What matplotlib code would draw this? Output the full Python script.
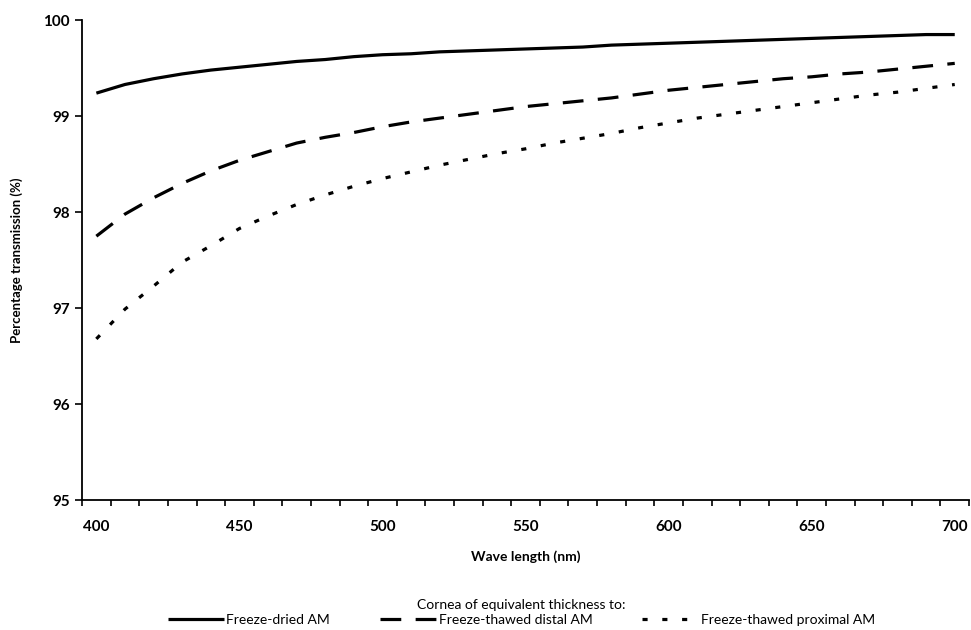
import numpy as np
import matplotlib
matplotlib.use("Agg")
import matplotlib.pyplot as plt
from matplotlib.ticker import MultipleLocator, FixedLocator

# Datos
wavelength = list(range(400, 701, 10))

freeze_dried = [99.24, 99.33, 99.39, 99.44, 99.48, 99.51, 99.54, 99.57, 99.59, 99.62,
                99.64, 99.65, 99.67, 99.68, 99.69, 99.70, 99.71, 99.72, 99.74, 99.75,
                99.76, 99.77, 99.78, 99.79, 99.80, 99.81, 99.82, 99.83, 99.84, 99.85,
                99.85]

thawed_distal = [97.75, 97.98, 98.15, 98.30, 98.43, 98.54, 98.63, 98.72, 98.78, 98.83,
                 98.89, 98.94, 98.98, 99.02, 99.06, 99.10, 99.13, 99.16, 99.19, 99.23,
                 99.27, 99.30, 99.33, 99.36, 99.39, 99.41, 99.44, 99.46, 99.49, 99.52,
                 99.55]

thawed_proximal = [96.68, 96.99, 97.23, 97.48, 97.65, 97.83, 97.96, 98.08, 98.18, 98.27,
                   98.35, 98.42, 98.49, 98.55, 98.61, 98.66, 98.72, 98.77, 98.82, 98.88,
                   98.93, 98.98, 99.02, 99.06, 99.10, 99.14, 99.18, 99.22, 99.25, 99.29,
                   99.33]

labels = ["Freeze-dried AM", "Freeze-thawed distal AM", "Freeze-thawed proximal AM"]

plt.rcParams["font.family"] = ["Lato", "DejaVu Sans"]

fig = plt.figure(figsize=(9.71, 6.30), dpi=100)
ax = fig.add_axes([0.0845, 0.206, 0.9135, 0.762])

lw = 2.3
ax.plot(wavelength, freeze_dried, color="black", lw=lw, solid_capstyle="butt", label=labels[0])
ax.plot(wavelength, thawed_distal, color="black", lw=lw, linestyle=(0, (6.5, 4.5)),
        dash_capstyle="butt", label=labels[1])
ax.plot(wavelength, thawed_proximal, color="black", lw=lw, linestyle=(0, (1.6, 4.6)),
        dash_capstyle="butt", label=labels[2])

# Ejes
ax.set_xlim(395, 705)
ax.set_ylim(95, 100)
ax.xaxis.set_major_locator(FixedLocator(list(range(400, 701, 50))))
ax.xaxis.set_minor_locator(FixedLocator(list(range(395, 706, 10))))
ax.yaxis.set_major_locator(MultipleLocator(1))
ax.tick_params(axis="x", which="major", length=0, pad=14, labelsize=11)
ax.tick_params(axis="x", which="minor", length=4, width=1.2, direction="out")
ax.tick_params(axis="y", which="major", length=5, width=1.2, pad=4, labelsize=11)
for lab in ax.get_xticklabels() + ax.get_yticklabels():
    lab.set_fontweight("bold")

for s in ["top", "right"]:
    ax.spines[s].set_visible(False)
for s in ["left", "bottom"]:
    ax.spines[s].set_linewidth(1.3)

ax.set_xlabel("Wave length (nm)", fontsize=10, fontweight="bold", labelpad=12)
ax.set_ylabel("Percentage transmission (%)", fontsize=9.5, fontweight="bold", labelpad=14)

# Leyenda
fig.legend(loc="lower center", bbox_to_anchor=(0.537, 0.004), ncol=3, frameon=False,
           title="Cornea of equivalent thickness to:", fontsize=10, title_fontsize=10,
           handlelength=4, handletextpad=0.2, columnspacing=3.6, borderaxespad=0,
           labelspacing=0.2, borderpad=0.1)

plt.savefig("out.png", dpi=100)
